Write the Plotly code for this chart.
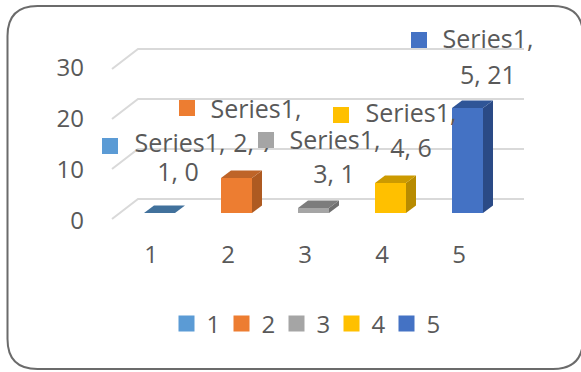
import plotly.graph_objects as go

# Chart data
categories = [1, 2, 3, 4, 5]
values = [0, 7, 1, 6, 21]
series_name = "Series1"
y_ticks = [0, 10, 20, 30]

# Face colours per bar
front_colors = ["#5b9bd5", "#ed7d31", "#a5a5a5", "#ffc000", "#4472c4"]
top_colors = ["#41719c", "#be6428", "#7c7c7c", "#cc9a00", "#2f5597"]
side_colors = ["#41719c", "#ae5a21", "#6f6f6f", "#b88b00", "#2a4a86"]

W, H = 581, 372
M_L, M_R, M_T, M_B = 92, 30, 10, 136
PX_X = 77.0     # pixels per category
PX_Y = 5.0      # pixels per value unit
X0_PX = 151.0   # pixel column of category 1
Y0_PX = 213.0   # pixel row of value 0

TEXT = "#595959"
GRID = "#d9d9d9"
FONT = "Open Sans"

x_range = [1 + (M_L - X0_PX) / PX_X, 1 + (W - M_R - X0_PX) / PX_X]
y_range = [(Y0_PX - (H - M_B)) / PX_Y, (Y0_PX - M_T) / PX_Y]


def dx(px):
    return px / PX_X


def dy(px):
    """Offset in value units; positive pixels go upward."""
    return px / PX_Y


# Box geometry of the pseudo-3D columns
bar_left = dx(-7)
bar_width = dx(31)
depth_x = dx(10)
depth_y = dy(7.5)

# Wall and floor geometry
wall_rise = dy(14)
floor_drop = dy(6)
wall_left = 1 + dx(138 - X0_PX)
wall_right = 1 + dx(524 - X0_PX)
front_left = 1 + dx(112 - X0_PX)

# Data label placement, in pixels from the top of each column
label_key = [(-41, 67), (-41, 70), (-39, 68), (-41, 68), (-40, 68)]
label_line1 = [(29, 67), (28, 66), (30, 65), (29, 67), (29, 66)]
label_line2 = [(27, 38), (26, 32), (29, 31), (29, 32), (29, 30)]

fig = go.Figure()

# Front faces
for c, v, col in zip(categories, values, front_colors):
    fig.add_trace(go.Bar(
        x=[c], y=[v], width=bar_width, offset=bar_left,
        marker=dict(color=col, line=dict(width=0)),
        showlegend=False, hoverinfo="skip",
    ))

# Side and top faces, derived from each value
for c, v, top, side in zip(categories, values, top_colors, side_colors):
    xl = c + bar_left
    xr = xl + bar_width
    if v > 0:
        fig.add_trace(go.Scatter(
            x=[xr, xr + depth_x, xr + depth_x, xr, xr],
            y=[0, depth_y, v + depth_y, v, 0],
            mode="lines", fill="toself", fillcolor=side, line=dict(width=0),
            showlegend=False, hoverinfo="skip",
        ))
    fig.add_trace(go.Scatter(
        x=[xl, xr, xr + depth_x, xl + depth_x, xl],
        y=[v, v, v + depth_y, v + depth_y, v],
        mode="lines", fill="toself", fillcolor=top, line=dict(width=0),
        showlegend=False, hoverinfo="skip",
    ))

# Two-line data labels
for c, v, p1, p2 in zip(categories, values, label_line1, label_line2):
    fig.add_trace(go.Scatter(
        x=[c + dx(p1[0]), c + dx(p2[0])],
        y=[v + dy(p1[1]), v + dy(p2[1])],
        text=[f"{series_name},", f"{c}, {v}"],
        mode="text", textposition="middle center",
        textfont=dict(family=FONT, size=25, color=TEXT),
        cliponaxis=False, showlegend=False, hoverinfo="skip",
    ))

# Colour keys; these also feed the legend
for c, v, col, k in zip(categories, values, front_colors, label_key):
    fig.add_trace(go.Scatter(
        x=[c + dx(k[0])], y=[v + dy(k[1])], name=str(c),
        mode="markers",
        marker=dict(symbol="square", size=16, color=col, line=dict(width=0)),
        cliponaxis=False, hoverinfo="skip",
    ))

# Back wall gridlines with their receding floor edge
shapes = []
for t in y_ticks:
    pts = [(front_left, t - floor_drop), (wall_left, t + wall_rise), (wall_right, t + wall_rise)]
    path = "M " + " L ".join(f"{x},{y}" for x, y in pts)
    shapes.append(dict(type="path", path=path, xref="x", yref="y", layer="below",
                       line=dict(color=GRID, width=2)))


# Rounded chart border, in paper coordinates
def px(x):
    return (x - M_L) / (W - M_L - M_R)


def py(y):
    return 1 - (y - M_T) / (H - M_T - M_B)


L, R, T, B, RAD = 7.5, 583, 6, 369, 30
frame = (
    f"M {px(L + RAD)},{py(T)} L {px(R - RAD)},{py(T)} "
    f"Q {px(R)},{py(T)} {px(R)},{py(T + RAD)} L {px(R)},{py(B - RAD)} "
    f"Q {px(R)},{py(B)} {px(R - RAD)},{py(B)} L {px(L + RAD)},{py(B)} "
    f"Q {px(L)},{py(B)} {px(L)},{py(B - RAD)} L {px(L)},{py(T + RAD)} "
    f"Q {px(L)},{py(T)} {px(L + RAD)},{py(T)} Z"
)
shapes.append(dict(type="path", path=frame, xref="paper", yref="paper", layer="below",
                   line=dict(color="#6b6b6b", width=2)))

# Value labels sit on the front plane, which is slightly lower and wider spaced
tick_stretch = 1.02
tick_drop = dy(8)

fig.update_layout(
    width=W, height=H,
    margin=dict(l=M_L, r=M_R, t=M_T, b=M_B),
    paper_bgcolor="white", plot_bgcolor="rgba(0,0,0,0)",
    barmode="overlay",
    shapes=shapes,
    font=dict(family=FONT, size=24, color=TEXT),
    xaxis=dict(range=x_range, tickmode="array", tickvals=categories,
               ticktext=[str(c) for c in categories], showgrid=False, zeroline=False,
               showline=False, ticks="", fixedrange=True, ticklabelstandoff=2),
    yaxis=dict(range=y_range, tickmode="array",
               tickvals=[t * tick_stretch - tick_drop for t in y_ticks],
               ticktext=[str(t) for t in y_ticks], showgrid=False, zeroline=False,
               showline=False, ticks="", fixedrange=True, ticklabelstandoff=7),
    legend=dict(orientation="h", x=px(304), xanchor="center", y=py(324), yanchor="middle",
                font=dict(family=FONT, size=24, color=TEXT), itemsizing="trace",
                entrywidth=10, entrywidthmode="pixels",
                bgcolor="rgba(0,0,0,0)", tracegroupgap=0),
)

fig.write_html("out.html", config=dict(displayModeBar=False))
